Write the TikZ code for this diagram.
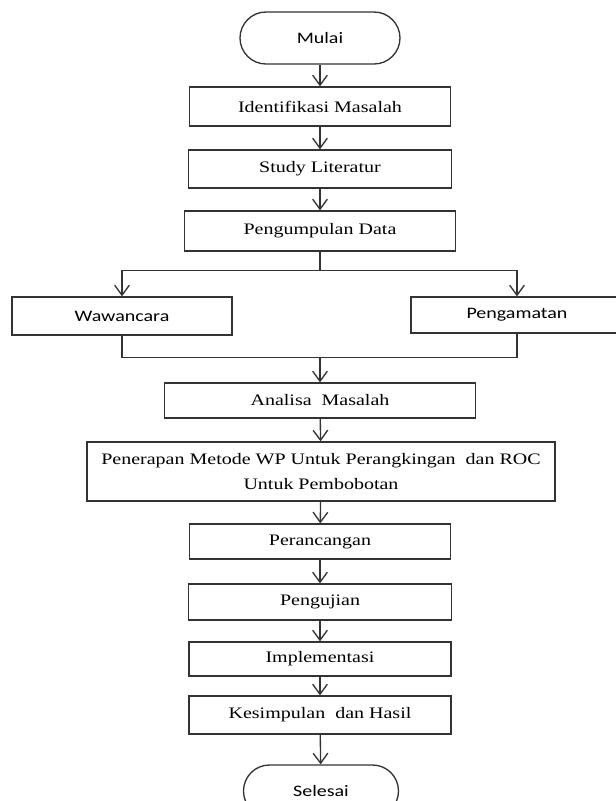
\documentclass[tikz,border=0pt]{standalone}
\usepackage{fontspec}
\setmainfont{Liberation Serif}[FakeStretch=1.25]
\newfontfamily\calfont{Carlito}[FakeStretch=1.25]
\usetikzlibrary{arrows.meta}
\tikzset{
  base/.style={draw=black!80, line width=1pt, inner sep=0pt, align=center, font=\fontsize{12}{19}\selectfont},
  bw/.style={minimum width=#1*0.75pt},
  bh/.style={minimum height=#1*0.75pt},
  procbox/.style={base},
  termbox/.style={base, rounded corners=19.5pt, font=\calfont\fontsize{12}{14}\selectfont},
  sansbox/.style={base, font=\calfont\fontsize{12}{14}\selectfont},
  flow/.style={draw=black!80, line width=1pt, -{Straight Barb[length=7.5pt,width=11pt]}},
  plain/.style={draw=black!80, line width=1pt}
}
\begin{document}
\begin{tikzpicture}[x=0.75pt, y=-0.75pt]
\clip (0,0) rectangle (616,801);
\fill[white] (0,0) rectangle (616,801);

\node[termbox, bw=160, bh=52] (mulai) at (320,38) {Mulai};
\node[procbox, bw=261, bh=39] (iden) at (320,106.5) {Identifikasi Masalah};
\node[procbox, bw=263, bh=38] (study) at (320,169) {Study Literatur};
\node[procbox, bw=271, bh=40] (pd) at (320,231) {Pengumpulan Data};
\node[sansbox, bw=220, bh=38] (waw) at (122,316) {Wawancara};
\node[sansbox, bw=212, bh=36] (peng) at (517,315) {Pengamatan};
\node[procbox, bw=311, bh=35] (ana) at (320,400.5) {Analisa\ \ Masalah};
\node[procbox, bw=468, bh=59] (pen) at (321,471.5) {Penerapan Metode WP Untuk Perangkingan\ \ dan ROC\\Untuk Pembobotan};
\node[procbox, bw=261, bh=35] (per) at (320,541.5) {Perancangan};
\node[procbox, bw=263, bh=36] (uji) at (320,602) {Pengujian};
\node[procbox, bw=262, bh=34] (imp) at (320,659) {Implementasi};
\node[procbox, bw=262, bh=38] (kes) at (320,715) {Kesimpulan\ \ dan Hasil};
\node[termbox, bw=155, bh=52] (sel) at (321,791) {Selesai};

\draw[flow] (mulai) -- (iden);
\draw[flow] (iden) -- (study);
\draw[flow] (study) -- (pd);

\path (pd.south) ++(0,19) coordinate (sp);
\draw[plain] (pd.south) -- (sp);
\draw[flow] (sp) -| (waw.north);
\draw[flow] (sp) -| (peng.north);

\path (waw.south) ++(0,22) coordinate (mL);
\draw[plain] (waw.south) -- (mL) -| (peng.south);
\path (mL -| ana.north) coordinate (mC);
\draw[flow] (mC) -- (ana);

\draw[flow] (ana) -- (pen);
\draw[flow] (pen) -- (per);
\draw[flow] (per) -- (uji);
\draw[flow] (uji) -- (imp);
\draw[flow] (imp) -- (kes);
\draw[flow] (kes) -- (sel);
\end{tikzpicture}
\end{document}
